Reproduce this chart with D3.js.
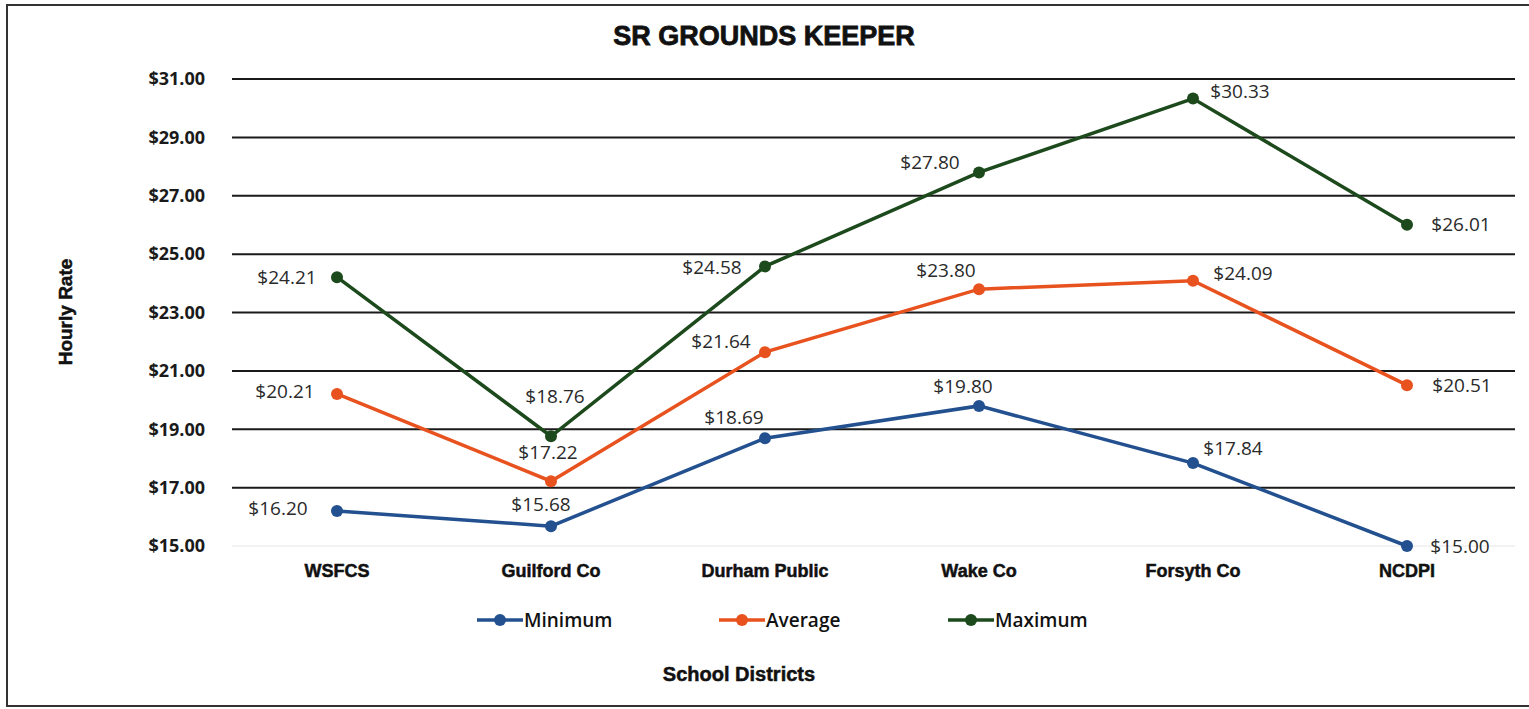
<!DOCTYPE html>
<html>
<head>
    <title>SR Grounds Keeper</title>
    <script src="https://d3js.org/d3.v7.min.js"></script>
    <style>
        body { margin: 0; background: #fff; }
        .heavy { font-family: "Liberation Sans", Arial, sans-serif; font-weight: bold; fill: #111; stroke: #111; stroke-width: 0.5px; }
        .ytick { font: bold 18px "Open Sans", sans-serif; fill: #1a1a1a; }
        .data-label { font: 19px "Open Sans", sans-serif; fill: #2a2a2a; }
        .legend text { font: 600 19px "Open Sans", sans-serif; fill: #111; }
    </style>
</head>
<body>
<div id="chart"></div>
<script>
// chart data
const districts = ["WSFCS", "Guilford Co", "Durham Public", "Wake Co", "Forsyth Co", "NCDPI"];
const minimum = [16.20, 15.68, 18.69, 19.80, 17.84, 15.00];
const average = [20.21, 17.22, 21.64, 23.80, 24.09, 20.51];
const maximum = [24.21, 18.76, 24.58, 27.80, 30.33, 26.01];
const yTicks = [15, 17, 19, 21, 23, 25, 27, 29, 31];

// data label offsets from each point (label centre), px
const offMin = [[-59, -3], [-10, -22], [-31, -21], [-16, -20], [40, -15], [53, 0]];
const offAvg = [[-52, -3], [-3, -29], [-44, -11], [-33, -19], [50, -7], [55, 0]];
const offMax = [[-50, 0], [4, -40], [-53, 1], [-49, -10], [47, -7], [54, 0]];

const series = [
    { name: "Minimum", values: minimum, off: offMin, color: "#23508f" },
    { name: "Average", values: average, off: offAvg, color: "#e8521f" },
    { name: "Maximum", values: maximum, off: offMax, color: "#1d4a1d" }
];

const width = 1529, height = 709;

const svg = d3.select("#chart").append("svg")
    .attr("width", width)
    .attr("height", height);

// outer frame
svg.append("rect")
    .attr("x", 7).attr("y", 5)
    .attr("width", 1530).attr("height", 701)
    .attr("fill", "none")
    .attr("stroke", "#333")
    .attr("stroke-width", 2);

const x = d3.scalePoint()
    .domain(districts)
    .range([337, 1407]);

const y = d3.scaleLinear()
    .domain([15, 31])
    .range([546, 79]);

const fmt = d => "$" + d3.format(".2f")(d);

// gridlines
svg.selectAll(".grid")
    .data(yTicks)
    .enter().append("line")
    .attr("x1", 232).attr("x2", 1515)
    .attr("y1", d => y(d)).attr("y2", d => y(d))
    .attr("stroke", d => d === 15 ? "#e6e6e6" : "#1a1a1a")
    .attr("stroke-width", d => d === 15 ? 1 : 2);

// y axis labels
svg.selectAll(".ytick")
    .data(yTicks)
    .enter().append("text")
    .attr("class", "ytick")
    .attr("x", 205)
    .attr("y", d => y(d))
    .attr("dy", "0.35em")
    .attr("text-anchor", "end")
    .text(fmt);

// x axis labels
svg.selectAll(".xtick")
    .data(districts)
    .enter().append("text")
    .attr("class", "heavy")
    .style("font-size", "18px")
    .attr("x", d => x(d))
    .attr("y", 577)
    .attr("text-anchor", "middle")
    .text(d => d);

// title
svg.append("text")
    .attr("class", "heavy")
    .attr("x", 764).attr("y", 45)
    .attr("text-anchor", "middle")
    .style("font-size", "27px")
    .style("stroke-width", "0.8px")
    .text("SR GROUNDS KEEPER");

// axis titles
svg.append("text")
    .attr("class", "heavy")
    .attr("transform", "translate(72,312) rotate(-90)")
    .attr("text-anchor", "middle")
    .style("font-size", "19px")
    .text("Hourly Rate");

svg.append("text")
    .attr("class", "heavy")
    .attr("x", 739).attr("y", 681)
    .attr("text-anchor", "middle")
    .style("font-size", "20px")
    .text("School Districts");

// lines + markers
const line = d3.line()
    .x((d, i) => x(districts[i]))
    .y(d => y(d));

series.forEach(s => {
    svg.append("path")
        .datum(s.values)
        .attr("d", line)
        .attr("fill", "none")
        .attr("stroke", s.color)
        .attr("stroke-width", 3.5);

    svg.selectAll(null)
        .data(s.values)
        .enter().append("circle")
        .attr("cx", (d, i) => x(districts[i]))
        .attr("cy", d => y(d))
        .attr("r", 6)
        .attr("fill", s.color);

    svg.selectAll(null)
        .data(s.values)
        .enter().append("text")
        .attr("class", "data-label")
        .attr("x", (d, i) => x(districts[i]) + s.off[i][0])
        .attr("y", (d, i) => y(d) + s.off[i][1])
        .attr("dy", "0.35em")
        .attr("text-anchor", "middle")
        .text(fmt);
});

// legend
const legendX = [477, 719, 948];
const legend = svg.selectAll(".legend")
    .data(series)
    .enter().append("g")
    .attr("class", "legend")
    .attr("transform", (d, i) => `translate(${legendX[i]},620)`);

legend.append("line")
    .attr("x1", 0).attr("x2", 46)
    .attr("stroke", d => d.color)
    .attr("stroke-width", 3.5);

legend.append("circle")
    .attr("cx", 23).attr("r", 6)
    .attr("fill", d => d.color);

legend.append("text")
    .attr("x", 47)
    .attr("dy", "0.35em")
    .text(d => d.name);
</script>
</body>
</html>
